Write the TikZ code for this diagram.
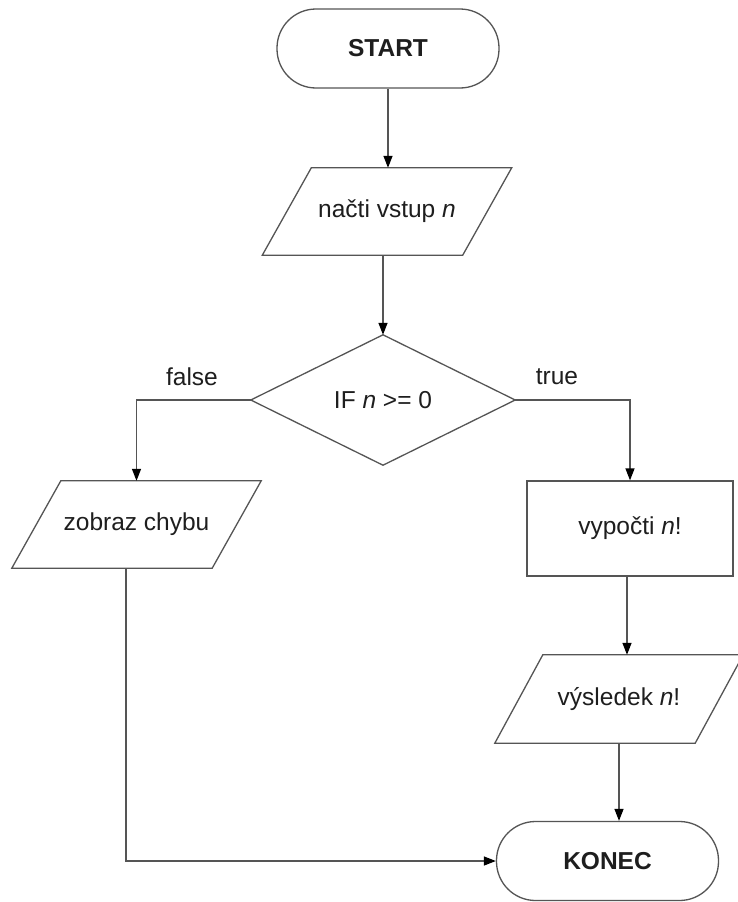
\documentclass[tikz,border=0pt]{standalone}
\usepackage{fontspec}
\setmainfont{Liberation Sans}
\usetikzlibrary{arrows.meta}
\definecolor{linegray}{HTML}{555555}
\definecolor{ink}{HTML}{1E1E1E}
\tikzset{
  txt/.style={font=\fontsize{24.5}{29}\selectfont, text=ink},
  terminal/.style={txt, draw=linegray, line width=1.3pt, rounded corners=39pt,
    minimum width=222pt, minimum height=79pt, inner sep=0pt, font=\fontsize{24.5}{29}\selectfont\bfseries},
  iobox/.style={txt, minimum width=200pt, minimum height=87pt, inner sep=0pt},
  procbox/.style={txt, draw=linegray, line width=1.3pt, minimum width=206pt, minimum height=95pt, inner sep=0pt},
  decbox/.style={txt, minimum width=264pt, minimum height=130pt, inner sep=0pt},
  outline/.style={draw=linegray, line width=1.3pt, line join=miter},
  flow/.style={draw=linegray, line width=1.3pt, -{Triangle[length=12pt,width=9pt,color=black]}},
  plain/.style={draw=linegray, line width=1.3pt},
  lbl/.style={txt, inner sep=0pt}
}
\begin{document}
\begin{tikzpicture}[x=1pt,y=-1pt]
\useasboundingbox[fill=white] (0,0) rectangle (737,902);

% terminals
\node[terminal] (start) at (388,48.5) {START};
\node[terminal] (end) at (607.5,861) {KONEC};

% input: read n
\node[iobox] (in) at (387,211.5) {načti vstup \textit{n}};
\draw[outline] ([xshift=-24.5pt]in.south west) -- ([xshift=-24.5pt]in.south east)
  -- ([xshift=24.5pt]in.north east) -- ([xshift=24.5pt]in.north west) -- cycle;

% decision
\node[decbox] (dec) at (383,400) {IF \textit{n} >= 0};
\draw[outline] (dec.north) -- (dec.east) -- (dec.south) -- (dec.west) -- cycle;

% error output
\node[iobox] (err) at (136.5,524.5) {zobraz chybu};
\draw[outline] ([xshift=-24.5pt]err.south west) -- ([xshift=-24.5pt]err.south east)
  -- ([xshift=24.5pt]err.north east) -- ([xshift=24.5pt]err.north west) -- cycle;

% computation
\node[procbox] (calc) at (630,528.5) {vypočti \textit{n}!};

% result output
\node[iobox, minimum height=88pt] (out) at (619,699) {výsledek \textit{n}!};
\draw[outline] ([xshift=-24pt]out.south west) -- ([xshift=-24pt]out.south east)
  -- ([xshift=24pt]out.north east) -- ([xshift=24pt]out.north west) -- cycle;

% branch labels
\node[lbl] (lf) at (192,377) {false};
\node[lbl] (lt) at (557,377) {true};

% connectors
\draw[flow] (start.south) -- (start.south |- in.north);
\draw[flow] ([xshift=-4pt]in.south) -- ([xshift=-4pt]in.south |- dec.north);
\draw[flow] (dec.west) -| (err.north);
\draw[flow] (dec.east) -| (calc.north);
\draw[flow] ([xshift=-3pt]calc.south) -- ([xshift=-3pt]calc.south |- out.north);
\draw[flow] (out.south) -- (out.south |- end.north);
\coordinate (errfoot) at ([xshift=-10.5pt]err.south);
\draw[flow] (errfoot) |- (end.west);
\end{tikzpicture}
\end{document}
